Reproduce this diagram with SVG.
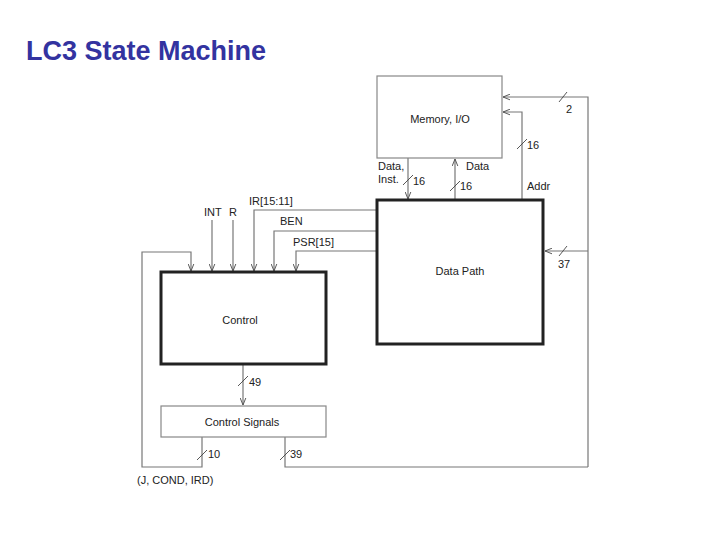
<svg xmlns="http://www.w3.org/2000/svg" width="720" height="540" viewBox="0 0 720 540">
<defs>
<marker id="ah" viewBox="0 0 10 10" refX="10" refY="5" markerWidth="7" markerHeight="7" orient="auto" markerUnits="userSpaceOnUse">
<path d="M0,1 L10,5 L0,9" fill="none" stroke="#555" stroke-width="1.4"/>
</marker>
</defs>
<style>
.t{font-family:"Liberation Sans",Arial,sans-serif;font-size:11px;fill:#222}
.c{fill:none;stroke:#777;stroke-width:1.2}
.s{fill:none;stroke:#444;stroke-width:0.9}
.thin{fill:#fff;stroke:#888;stroke-width:1.2}
.thick{fill:#fff;stroke:#222;stroke-width:3}
</style>
<rect width="720" height="540" fill="#fff"/>
<text x="26" y="60" style="font-family:'Liberation Sans',Arial,sans-serif;font-size:27px;font-weight:bold;fill:#3333a0">LC3 State Machine</text>

<g id="connectors">
<!-- 2 line -->
<polyline class="c" points="588,467 588,97 503,97" marker-end="url(#ah)"/>
<line class="s" x1="559" y1="102" x2="567" y2="92"/>
<!-- Addr -->
<polyline class="c" points="522,200 522,112 503,112" marker-end="url(#ah)"/>
<line class="s" x1="517" y1="149" x2="527" y2="139"/>
<!-- Data, Inst down -->
<line class="c" x1="408" y1="158" x2="408" y2="199" marker-end="url(#ah)"/>
<line class="s" x1="403" y1="185" x2="413" y2="175"/>
<!-- Data up -->
<line class="c" x1="455" y1="200" x2="455" y2="159" marker-end="url(#ah)"/>
<line class="s" x1="450" y1="191" x2="460" y2="181"/>
<!-- 37 -->
<line class="c" x1="588" y1="251" x2="545" y2="251" marker-end="url(#ah)"/>
<line class="s" x1="559" y1="256" x2="567" y2="246"/>
<!-- IR, BEN, PSR -->
<polyline class="c" points="377,210 254,210 254,271" marker-end="url(#ah)"/>
<polyline class="c" points="377,231 274,231 274,271" marker-end="url(#ah)"/>
<polyline class="c" points="377,251 296,251 296,271" marker-end="url(#ah)"/>
<!-- INT R -->
<line class="c" x1="212" y1="220" x2="212" y2="271" marker-end="url(#ah)"/>
<line class="c" x1="233" y1="220" x2="233" y2="271" marker-end="url(#ah)"/>
<!-- loop 10 -->
<polyline class="c" points="202,437 202,467 142,467 142,252 191,252 191,271" marker-end="url(#ah)"/>
<line class="s" x1="197" y1="460" x2="207" y2="450"/>
<!-- 49 -->
<line class="c" x1="243" y1="365" x2="243" y2="405" marker-end="url(#ah)"/>
<line class="s" x1="238" y1="386" x2="248" y2="376"/>
<!-- 39 -->
<polyline class="c" points="285,437 285,467 588,467"/>
<line class="s" x1="280" y1="460" x2="290" y2="450"/>
</g>

<g id="memory">
<rect class="thin" x="377" y="76" width="125" height="82"/>
<text class="t" x="440" y="123" text-anchor="middle">Memory, I/O</text>
</g>
<g id="datapath">
<rect class="thick" x="377" y="200" width="166" height="144"/>
<text class="t" x="460" y="275" text-anchor="middle">Data Path</text>
</g>
<g id="control">
<rect class="thick" x="161" y="272" width="165" height="92"/>
<text class="t" x="240" y="324" text-anchor="middle">Control</text>
</g>
<g id="controlsignals">
<rect class="thin" x="161" y="406" width="165" height="31"/>
<text class="t" x="242" y="426" text-anchor="middle">Control Signals</text>
</g>

<g id="labels">
<text class="t" x="566" y="113">2</text>
<text class="t" x="527" y="149">16</text>
<text class="t" x="378" y="170">Data,</text>
<text class="t" x="378" y="183">Inst.</text>
<text class="t" x="413" y="185">16</text>
<text class="t" x="466" y="170">Data</text>
<text class="t" x="460" y="190">16</text>
<text class="t" x="527" y="190">Addr</text>
<text class="t" x="558" y="268">37</text>
<text class="t" x="204" y="216">INT</text>
<text class="t" x="229" y="216">R</text>
<text class="t" x="249" y="205">IR[15:11]</text>
<text class="t" x="280" y="225">BEN</text>
<text class="t" x="293" y="246">PSR[15]</text>
<text class="t" x="249" y="386">49</text>
<text class="t" x="208" y="458">10</text>
<text class="t" x="290" y="458">39</text>
<text class="t" x="137" y="484">(J, COND, IRD)</text>
</g>
</svg>
